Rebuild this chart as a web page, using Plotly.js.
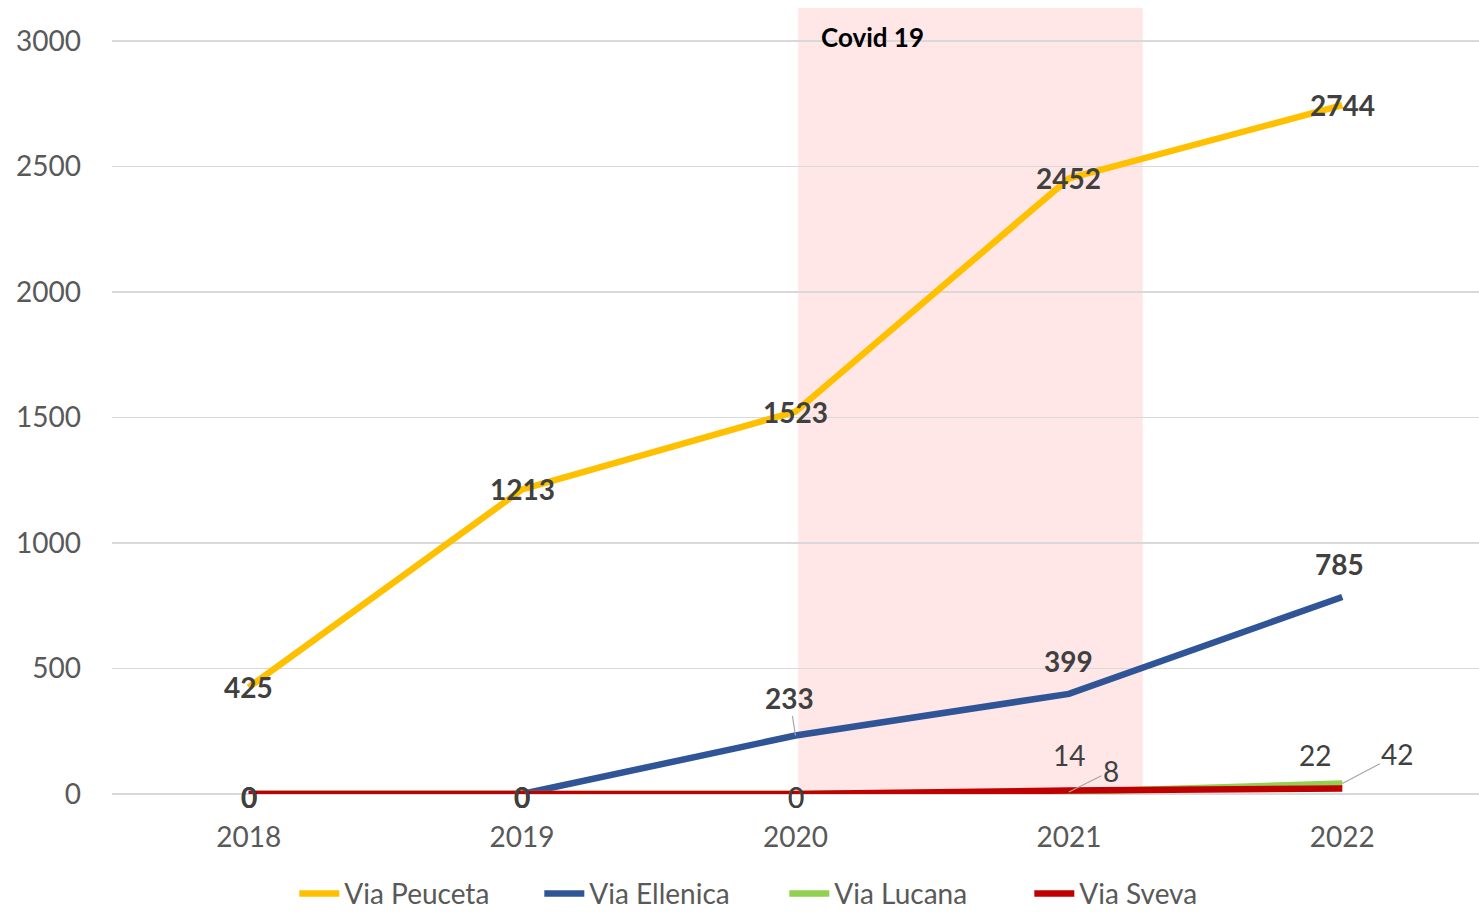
<!DOCTYPE html>
<html>
<head>
<meta charset="utf-8">
<script src="https://cdn.plot.ly/plotly-3.0.1.min.js"></script>
<style>html,body{margin:0;padding:0;background:#fff;}#chart{width:1479px;height:912px;}</style>
</head>
<body>
<div id="chart"></div>
<script>
const years = ['2018', '2019', '2020', '2021', '2022'];
const seriesNames = ['Via Peuceta', 'Via Ellenica', 'Via Lucana', 'Via Sveva'];
const viaPeuceta = [425, 1213, 1523, 2452, 2744];
const viaEllenica = [0, 0, 233, 399, 785];
const viaLucana = [0, 0, 0, 8, 42];
const viaSveva = [0, 0, 0, 14, 22];
const covidLabel = 'Covid 19';

const values = [viaPeuceta, viaEllenica, viaLucana, viaSveva];
const colors = ['#FFC000', '#2F5597', '#92D050', '#C00000'];
const bold = [true, true, false, false];
// label offsets in pixels [xshift, yshift, leader]
const offsets = [
  [[0,0,0],[0,0,0],[0,0,0],[0,0,0],[0,0,0]],
  [[0,-3,0],[0,-3,0],[-6,38,1],[0,33,0],[-3,33,0]],
  [[0,-3,0],[0,-3,0],[0,-3,0],[42,21,1],[55,29,1]],
  [[0,-3,0],[0,-3,0],[0,-3,0],[0,35,0],[-27,33,0]]
];

const traces = values.map((v, i) => ({
  type: 'scatter', mode: 'lines', x: years, y: v, name: seriesNames[i],
  line: {color: colors[i], width: 6.5},
  hoverinfo: 'x+y'
}));

const annotations = [];
values.forEach((v, i) => {
  v.forEach((val, j) => {
    const o = offsets[i][j];
    const a = {
      x: j, y: val, xref: 'x', yref: 'y',
      text: bold[i] ? '<b>' + val + '</b>' : String(val),
      font: {family: 'Lato, sans-serif', size: 28, color: '#404040'},
      xanchor: 'center', yanchor: 'middle'
    };
    if (o[2]) {
      a.showarrow = true; a.arrowhead = 0; a.arrowwidth = 1.2; a.arrowcolor = '#a6a6a6';
      a.ax = o[0]; a.ay = -o[1]; a.standoff = 0;
    } else {
      a.showarrow = false; a.xshift = o[0]; a.yshift = o[1];
    }
    annotations.push(a);
  });
});
annotations.push({
  x: 2.086, y: 3016, xref: 'x', yref: 'y', text: '<b>' + covidLabel + '</b>',
  showarrow: false, xanchor: 'left', yanchor: 'middle',
  font: {family: 'Lato, sans-serif', size: 26, color: '#000000'}
});

const layout = {
  width: 1479, height: 912,
  margin: {l: 112, r: 0, t: 8, b: 118},
  paper_bgcolor: '#ffffff', plot_bgcolor: '#ffffff',
  showlegend: true,
  legend: {orientation: 'h', x: 0.199, xanchor: 'left', xref: 'container',
    y: 0.02, yanchor: 'middle', yref: 'container',
    font: {family: 'Lato, sans-serif', size: 28, color: '#595959'},
    itemwidth: 40, entrywidth: 190, tracegroupgap: 0},
  xaxis: {type: 'category', range: [-0.5, 4.5], showgrid: false, zeroline: false,
    showline: false, ticks: '', ticklabelstandoff: 24,
    tickfont: {family: 'Lato, sans-serif', size: 28, color: '#595959'}},
  yaxis: {range: [0, 3131], tickvals: [0, 500, 1000, 1500, 2000, 2500, 3000],
    showgrid: true, gridcolor: '#d9d9d9', gridwidth: 1.5, zeroline: true,
    zerolinecolor: '#d9d9d9', zerolinewidth: 1.5, showline: false, ticks: '',
    ticklabelstandoff: 30,
    tickfont: {family: 'Lato, sans-serif', size: 28, color: '#595959'}},
  shapes: [{type: 'rect', xref: 'x', yref: 'y', x0: 2.01, x1: 3.27, y0: 0, y1: 3131,
    fillcolor: '#FFE7E7', line: {width: 0}, layer: 'below'}],
  annotations: annotations
};

Plotly.newPlot('chart', traces, layout, {displayModeBar: false, staticPlot: true});
</script>
</body>
</html>
